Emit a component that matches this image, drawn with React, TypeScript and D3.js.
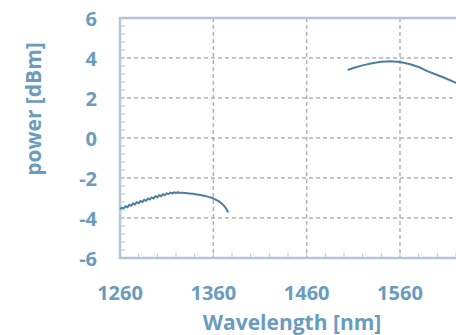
import React from "react";
import * as d3 from "d3";

const xTicks = [1260, 1360, 1460, 1560];
const yTicks = [6, 4, 2, 0, -2, -4, -6];

const bandOWavelength = [1260, 1262, 1264, 1266, 1268, 1270, 1272, 1274, 1276, 1278, 1280, 1282, 1284, 1286, 1288, 1290, 1292, 1294, 1296, 1298, 1300, 1302, 1304, 1306, 1308, 1310, 1312, 1314, 1316, 1318, 1320, 1322, 1324, 1326, 1330, 1334, 1338, 1342, 1346, 1350, 1354, 1358, 1362, 1366, 1369, 1372, 1374, 1376];
const bandOPower = [-3.55, -3.49, -3.51, -3.41, -3.46, -3.34, -3.39, -3.27, -3.32, -3.21, -3.26, -3.15, -3.2, -3.09, -3.14, -3.03, -3.08, -2.97, -3.02, -2.91, -2.96, -2.86, -2.91, -2.81, -2.86, -2.77, -2.81, -2.73, -2.77, -2.72, -2.75, -2.72, -2.74, -2.74, -2.75, -2.77, -2.79, -2.82, -2.85, -2.89, -2.93, -2.99, -3.07, -3.17, -3.28, -3.42, -3.55, -3.72];

const bandCWavelength = [1504, 1510, 1520, 1530, 1540, 1550, 1560, 1570, 1580, 1590, 1600, 1610, 1620, 1626];
const bandCPower = [3.4, 3.5, 3.63, 3.74, 3.81, 3.84, 3.8, 3.7, 3.55, 3.33, 3.15, 2.96, 2.76, 2.62];

const W = 456;
const H = 335;
const left = 120;
const top = 18;
const bottom = 258;
const textColor = "#6a9cc0";
const lineColor = "#4d7ea3";
const frameColor = "#b5c7d6";
const gridColor = "#b3b3b3";
const font = "'Open Sans', Lato, sans-serif";

export default function App() {
  const x = d3.scaleLinear().domain([1260, 1360]).range([left, left + 93.33]);
  const y = d3.scaleLinear().domain([-6, 6]).range([bottom, top]);
  const right = W + 20;

  const line = d3
    .line<[number, number]>()
    .x((d) => x(d[0]))
    .y((d) => y(d[1]))
    .curve(d3.curveLinear);

  const o = bandOWavelength.map((w, i) => [w, bandOPower[i]] as [number, number]);
  const c = bandCWavelength.map((w, i) => [w, bandCPower[i]] as [number, number]);

  const minorY = d3.range(-6, 6.001, 0.4);
  const minorX = d3.range(1260, 1700, 20);

  return (
    <svg
      width={W}
      height={H}
      style={{ position: "fixed", left: 0, top: 0, background: "#fff" }}
    >
      {yTicks
        .filter((t) => t !== 6 && t !== -6)
        .map((t) => (
          <line
            key={"gy" + t}
            x1={left}
            x2={right}
            y1={y(t)}
            y2={y(t)}
            stroke={gridColor}
            strokeWidth={1.5}
            strokeDasharray="4 3"
          />
        ))}
      {xTicks
        .filter((t) => t !== 1260)
        .map((t) => (
          <line
            key={"gx" + t}
            x1={x(t)}
            x2={x(t)}
            y1={top}
            y2={bottom}
            stroke={gridColor}
            strokeWidth={1.5}
            strokeDasharray="4 3"
          />
        ))}
      {minorY.map((t, i) => (
        <line
          key={"my" + i}
          x1={left}
          x2={left + 5}
          y1={y(t)}
          y2={y(t)}
          stroke="#c8c8c8"
          strokeWidth={1}
        />
      ))}
      {minorX.map((t, i) => (
        <line
          key={"mx" + i}
          x1={x(t)}
          x2={x(t)}
          y1={bottom}
          y2={bottom - 5}
          stroke="#c8c8c8"
          strokeWidth={1}
        />
      ))}
      <rect
        x={left}
        y={top}
        width={right - left}
        height={bottom - top}
        fill="none"
        stroke={frameColor}
        strokeWidth={2.5}
      />
      <path d={line(o) || ""} fill="none" stroke={lineColor} strokeWidth={2} />
      <path d={line(c) || ""} fill="none" stroke={lineColor} strokeWidth={2} />
      {yTicks.map((t) => (
        <text
          key={"ty" + t}
          x={97}
          y={y(t)}
          textAnchor="end"
          dominantBaseline="central"
          fill={textColor}
          fontFamily={font}
          fontWeight="bold"
          fontSize={20}
        >
          {t}
        </text>
      ))}
      {xTicks.map((t) => (
        <text
          key={"tx" + t}
          x={x(t)}
          y={292}
          textAnchor="middle"
          dominantBaseline="central"
          fill={textColor}
          fontFamily={font}
          fontWeight="bold"
          fontSize={20}
        >
          {t}
        </text>
      ))}
      <text
        x={292}
        y={322}
        textAnchor="middle"
        dominantBaseline="central"
        fill={textColor}
        fontFamily={font}
        fontWeight="bold"
        fontSize={21}
      >
        Wavelength [nm]
      </text>
      <text
        transform={`translate(33,109) rotate(-90)`}
        textAnchor="middle"
        dominantBaseline="central"
        fill={textColor}
        fontFamily={font}
        fontWeight="bold"
        fontSize={21}
      >
        power [dBm]
      </text>
    </svg>
  );
}
